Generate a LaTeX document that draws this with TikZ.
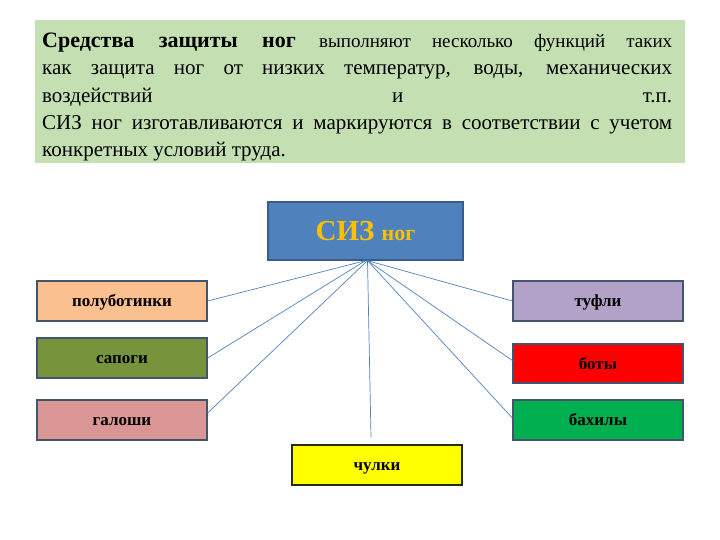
\documentclass[tikz,border=0pt]{standalone}
\usepackage{fontspec}
\setmainfont{Liberation Serif}
\usetikzlibrary{positioning}
\definecolor{notegreen}{HTML}{C4E0B2}
\definecolor{sizblue}{HTML}{4F81BD}
\definecolor{sizborder}{HTML}{385D8A}
\definecolor{siztext}{HTML}{FFC000}
\definecolor{itemborder}{HTML}{44546A}
\definecolor{peach}{HTML}{FAC090}
\definecolor{olive}{HTML}{77933C}
\definecolor{rose}{HTML}{D99694}
\definecolor{lavender}{HTML}{B3A2C7}
\definecolor{shoered}{HTML}{FF0000}
\definecolor{coverg}{HTML}{00B050}
\definecolor{stockyel}{HTML}{FFFF00}
\definecolor{linkblue}{HTML}{4F81BD}
\tikzset{
	item/.style={draw=itemborder, line width=1.3pt, minimum width=170pt,
		minimum height=40pt, inner sep=0pt, text height=11pt, text depth=0pt,
		font=\bfseries\fontsize{17}{20}\selectfont},
	link/.style={draw=linkblue, line width=0.7pt},
}

\begin{document}
\begin{tikzpicture}[x=1pt,y=-1pt]
	\useasboundingbox (0,0) rectangle (720,540);
%
	\fill[notegreen] (35,20) rectangle (685,163);
	\node[anchor=north west, inner sep=0pt, align=left,
		font=\fontsize{21}{27.2}\selectfont] (note) at (42,33)
		{\makebox[630pt][s]{{\bfseries\fontsize{22}{27}\selectfont Средства защиты ног}
			{\fontsize{19}{27}\selectfont выполняют несколько функций таких}}\\
		\makebox[630pt][s]{как защита ног от низких температур, воды, механических}\\
		\makebox[630pt][s]{воздействий и т.п.}\\
		\makebox[630pt][s]{СИЗ ног изготавливаются и маркируются в соответствии с учетом}\\
		конкретных условий труда.};
%
	\node[draw=sizborder, line width=1.3pt, fill=sizblue, minimum width=195pt,
		minimum height=58pt, inner sep=0pt, text=siztext] (siz) at (365.5,231)
		{\bfseries\fontsize{29}{30}\selectfont СИЗ \fontsize{22}{30}\selectfont ног};
%
	\node[item, fill=peach] (pb) at (122,301) {полуботинки};
	\node[item, fill=olive] (sap) at (122,358) {сапоги};
	\node[item, fill=rose] (gal) at (122,420) {галоши};
	\node[item, fill=lavender] (tuf) at (598,301) {туфли};
	\node[item, fill=shoered, minimum height=39pt] (boty) at (598,363.5) {боты};
	\node[item, fill=coverg] (bah) at (598,420) {бахилы};
	\node[item, draw=black!70!olive, fill=stockyel] (chul) at (377,465) {чулки};
%
	\draw[link] (siz.south) -- (pb.east);
	\draw[link] (siz.south) -- (sap.east);
	\draw[link] ([xshift=2pt]siz.south) -- ([yshift=7pt]gal.east);
	\draw[link] ([xshift=2pt]siz.south) -- ([xshift=-6pt,yshift=7pt]chul.north);
	\draw[link] ([xshift=2pt]siz.south) -- (tuf.west);
	\draw[link] ([xshift=2pt]siz.south) -- ([yshift=3pt]boty.west);
	\draw[link] ([xshift=2pt]siz.south) -- ([yshift=2pt]bah.west);
\end{tikzpicture}
\end{document}
